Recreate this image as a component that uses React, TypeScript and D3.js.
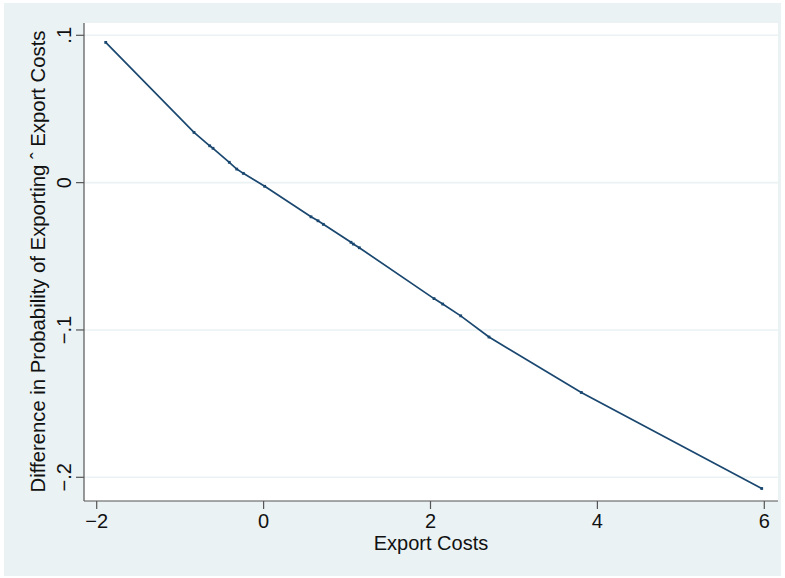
import React from "react";
import * as d3 from "d3";

const exportCosts = [-1.892, -0.834, -0.646, -0.606, -0.411, -0.322, -0.243, 0.013, 0.568, 0.652, 0.716, 1.047, 1.075, 1.147, 2.042, 2.146, 2.362, 2.701, 3.807, 5.969];
const diffProb = [0.0952, 0.0341, 0.025, 0.0233, 0.0138, 0.0092, 0.0063, -0.0025, -0.0232, -0.0259, -0.0283, -0.0405, -0.0417, -0.0442, -0.0787, -0.0824, -0.0904, -0.1048, -0.1424, -0.2076];
const xTicks = [-2, 0, 2, 4, 6];
const xTickLabels = ["\u22122", "0", "2", "4", "6"];
const yTicks = [0.1, 0, -0.1, -0.2];
const yTickLabels = [".1", "0", "\u2212.1", "\u2212.2"];

const W = 785;
const H = 578;
const plot = { left: 84, right: 778, top: 23, bottom: 501 };
const font = "'Liberation Sans', Arial, Helvetica, sans-serif";
const bg = "#EAF2F3";
const lineColor = "#1A476F";
const axisColor = "#555";

export default function App() {
  const x = d3.scaleLinear().domain([-2, 6]).range([96.7, 764.3]);
  const y = d3.scaleLinear().domain([0.1, -0.2]).range([35.3, 477.3]);
  const pts = exportCosts.map((v, i) => [v, diffProb[i]] as [number, number]);
  const line = d3
    .line<[number, number]>()
    .x((d) => x(d[0]))
    .y((d) => y(d[1]));

  return (
    <div style={{ position: "absolute", left: 0, top: 0 }}>
      <svg width={W} height={H} style={{ display: "block" }}>
        <rect x={0} y={0} width={W} height={H} fill="#fff" />
        <rect x={4} y={3} width={777} height={573} fill={bg} />
        <rect x={plot.left} y={plot.top} width={plot.right - plot.left} height={plot.bottom - plot.top} fill="#fff" />
        {yTicks.map((t) => (
          <line key={"g" + t} x1={plot.left} x2={plot.right} y1={y(t)} y2={y(t)} stroke={bg} strokeWidth={1.6} />
        ))}
        <line x1={plot.left} x2={plot.left} y1={plot.top} y2={plot.bottom} stroke={axisColor} strokeWidth={1.2} />
        <line x1={plot.left} x2={plot.right} y1={plot.bottom} y2={plot.bottom} stroke={axisColor} strokeWidth={1.2} />
        {yTicks.map((t, i) => (
          <g key={"yt" + t}>
            <line x1={plot.left - 8} x2={plot.left} y1={y(t)} y2={y(t)} stroke={axisColor} strokeWidth={1.2} />
            <text
              transform={`translate(71,${y(t)}) rotate(-90)`}
              textAnchor="middle"
              fontFamily={font}
              fontSize={20}
              fill="#111"
            >
              {yTickLabels[i]}
            </text>
          </g>
        ))}
        {xTicks.map((t, i) => (
          <g key={"xt" + t}>
            <line x1={x(t)} x2={x(t)} y1={plot.bottom} y2={plot.bottom + 8} stroke={axisColor} strokeWidth={1.2} />
            <text x={x(t)} y={528} textAnchor="middle" fontFamily={font} fontSize={20} fill="#111">
              {xTickLabels[i]}
            </text>
          </g>
        ))}
        <text x={431} y={550} textAnchor="middle" fontFamily={font} fontSize={20} fill="#111">
          Export Costs
        </text>
        <text
          transform={`translate(45,261.5) rotate(-90)`}
          textAnchor="middle"
          fontFamily={font}
          fontSize={20.3}
          fill="#111"
        >
          Difference in Probability of Exporting ˆ Export Costs
        </text>
        <path d={line(pts) ?? ""} fill="none" stroke={lineColor} strokeWidth={1.7} />
        {pts.map((p, i) => (
          <rect key={"m" + i} x={x(p[0]) - 1.4} y={y(p[1]) - 1.4} width={2.8} height={2.8} fill={lineColor} />
        ))}
      </svg>
    </div>
  );
}
